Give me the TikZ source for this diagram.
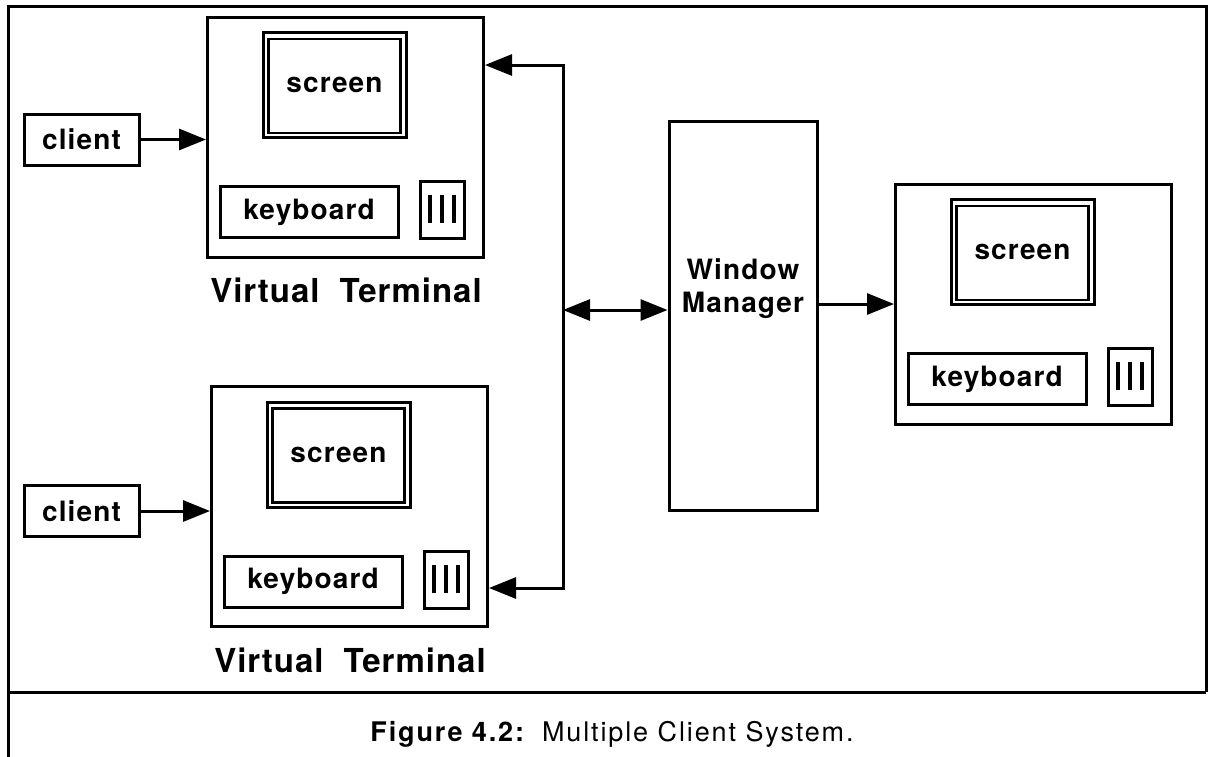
\documentclass[tikz,border=0pt]{standalone}
\usepackage{fontspec}
\setmainfont{TeX Gyre Heros}
\newfontfamily\boxfont[LetterSpace=4]{TeX Gyre Heros}
\newfontfamily\vtfont[LetterSpace=3]{TeX Gyre Heros}
\newfontfamily\capfont[LetterSpace=7]{TeX Gyre Heros}
\usetikzlibrary{arrows.meta}

\begin{document}
\begin{tikzpicture}[x=1pt, y=-1pt, line width=3pt,
	>={Triangle[length=27pt,width=21pt]},
	box/.style={draw, line width=3pt, inner sep=0pt, font=\boxfont\bfseries\fontsize{28}{33}\selectfont},
	termbox/.style={box, minimum width=276pt, minimum height=240pt},
	scrbox/.style={box, minimum width=143pt, minimum height=105pt},
	kbdbox/.style={box, minimum width=178pt, minimum height=51pt},
	keybox/.style={box, minimum width=44pt, minimum height=57pt},
	clientbox/.style={box, minimum width=115pt, minimum height=51pt},
	vtlabel/.style={font=\vtfont\bfseries\fontsize{33}{38}\selectfont, inner sep=0pt},
	bar/.style={line width=4.5pt}]
	\useasboundingbox (0,0) rectangle (1209,756);
% outer frame
	\draw (8,760) -- (8,6) -- (1206,6) -- (1206,692);
	\draw (8,692) -- (1206,692);
% terminals
	\foreach \n/\x/\y in {vta/345.5/137, vtb/349.5/506.5, vtc/1033.5/304}{
		\node[termbox] (\n) at (\x,\y) {};
		\node[scrbox] (\n-scr) at (\x-11,\y-52) {screen};
		\draw[line width=2.2pt] ([shift={(7,8)}]\n-scr.north west) rectangle ([shift={(-7,-6)}]\n-scr.south east);
		\node[kbdbox] (\n-kbd) at (\x-36.5,\y+75) {keyboard};
		\node[keybox] (\n-key) at (\x+96.5,\y+73) {};
		\foreach \d in {-12,0,12}
			\draw[bar] ([xshift=\d pt,yshift=15pt]\n-key.center) -- ([xshift=\d pt,yshift=-13pt]\n-key.center);
	}
	\node[vtlabel] (vta-lbl) at (346,290) {Virtual\hspace{20pt}Terminal};
	\node[vtlabel] (vtb-lbl) at (350,660) {Virtual\hspace{20pt}Terminal};
% clients
	\node[clientbox] (cla) at (81.5,139.5) {client};
	\node[clientbox] (clb) at (81.5,511) {client};
	\draw[->] (cla) -- (cla -| vta.west);
	\draw[->] (clb) -- (clb -| vtb.west);
% window manager
	\node[box, minimum width=148pt, minimum height=389pt] (wm) at (743,315.5) {};
	\node[box, draw=none, align=center] (wmtxt) at (743,289) {Window\\Manager};
% connections
	\coordinate (bustop) at (563,65);
	\coordinate (busbot) at (563,588);
	\coordinate (busmid) at (563,310);
	\draw[<->] (bustop -| vta.east) -- (bustop) -- (busbot) -- (busbot -| vtb.east);
	\draw[<->] (busmid) -- (busmid -| wm.west);
	\draw[->] (wm.east |- vtc.west) -- (vtc.west);
% caption
	\node[font=\capfont\fontsize{27}{32}\selectfont, anchor=base, inner sep=0pt] (caption) at (612,741) {\textbf{Figure 4.2:}\hspace{16pt}Multiple Client System.};
\end{tikzpicture}
\end{document}
